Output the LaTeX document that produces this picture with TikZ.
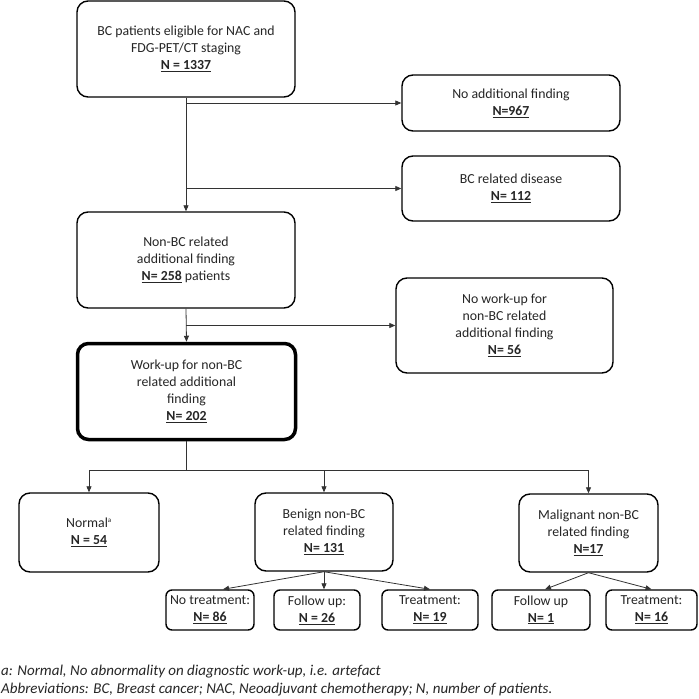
\documentclass[tikz,border=0pt]{standalone}
\usepackage{fontspec}
\setmainfont{Carlito}
\usetikzlibrary{arrows.meta,calc}
\newcommand{\nn}[1]{\underline{\textbf{#1}}}
\begin{document}
\begin{tikzpicture}[x=1pt,y=-1pt,
  box/.style={draw=black, rounded corners=11pt, line width=1.4pt, align=center,
    inner sep=1pt, text=black!85, font=\fontsize{13.8}{17}\selectfont},
  thickbox/.style={box, line width=3.5pt},
  small/.style={box, rounded corners=6pt, minimum width=#1, minimum height=40pt},
  conn/.style={draw=black!80, line width=0.8pt, -{Triangle[length=6pt,width=5pt]}},
  plain/.style={draw=black!80, line width=0.8pt},
  note/.style={anchor=west, inner sep=0pt, text=black!85, font=\fontsize{15}{18}\selectfont\itshape}]
\useasboundingbox (0,0) rectangle (699,699);
\fill[white] (0,0) rectangle (699,699);

\node[box, minimum width=218pt, minimum height=96pt] (top) at (186,49)
  {BC patients eligible for NAC and\\FDG-PET/CT staging\\\nn{N = 1337}};
\node[box, minimum width=218pt, minimum height=56pt] (noadd) at (511,103)
  {No additional finding\\\nn{N=967}};
\node[box, minimum width=218pt, minimum height=65pt] (bcrel) at (511,188.5)
  {BC related disease\\\nn{N= 112}};
\node[box, minimum width=218pt, minimum height=96pt] (nonbc) at (186,260)
  {Non-BC related\\additional finding\\\nn{N= 258} patients};
\node[box, minimum width=217pt, minimum height=95pt] (nowork) at (504.5,325.5)
  {No work-up for\\non-BC related\\additional finding\\\nn{N= 56}};
\node[thickbox, minimum width=218pt, minimum height=96pt] (workup) at (186.5,391.5)
  {Work-up for non-BC\\related additional\\finding\\\nn{N= 202}};

\node[box, minimum width=140pt, minimum height=79pt] (normal) at (89,532.5)
  {Normal\textsuperscript{\scriptsize a}\\\nn{N = 54}};
\node[box, minimum width=138pt, minimum height=78pt] (benign) at (324,532)
  {Benign non-BC\\related finding\\\nn{N= 131}};
\node[box, minimum width=139pt, minimum height=78pt] (malig) at (588.5,533)
  {Malignant non-BC\\related finding\\\nn{N=17}};

\node[small=88pt] (notreat) at (210,610) {No treatment:\\\nn{N= 86}};
\node[small=86pt] (follow1) at (317,610) {Follow up:\\\nn{N = 26}};
\node[small=96pt] (treat1) at (430,610) {Treatment:\\\nn{N= 19}};
\node[small=98pt] (follow2) at (541,610) {Follow up\\\nn{N= 1}};
\node[small=91pt] (treat2) at (651.5,610) {Treatment:\\\nn{N= 16}};

\draw[conn] (top.south) -- (nonbc.north);
\draw[conn] (top.south |- noadd.west) -- (noadd.west);
\draw[conn] (top.south |- bcrel.west) -- (bcrel.west);
\draw[conn] (nonbc.south) -- (workup.north);
\draw[conn] (nonbc.south |- nowork.west) -- (nowork.west);

\coordinate (split) at (186.5,470);
\draw[plain] (workup.south) -- (split);
\draw[conn] (split) -| (normal.north);
\draw[conn] (split) -| (benign.north);
\draw[conn] (split) -| (malig.north);

\draw[conn] (benign.south) -- ([xshift=13pt]notreat.north);
\draw[conn] (benign.south) -- (benign.south |- follow1.north);
\draw[conn] (benign.south) -- (treat1.north);
\draw[conn] (malig.south) -- ([xshift=4pt]follow2.north);
\draw[conn] (malig.south) -- (treat2.north);

\node[note] (n1) at (1,672) {a: Normal, No abnormality on diagnostic work-up, i.e. artefact};
\node[note] (n2) at (1,690) {Abbreviations: BC, Breast cancer; NAC, Neoadjuvant chemotherapy; N, number of patients.};
\end{tikzpicture}
\end{document}
